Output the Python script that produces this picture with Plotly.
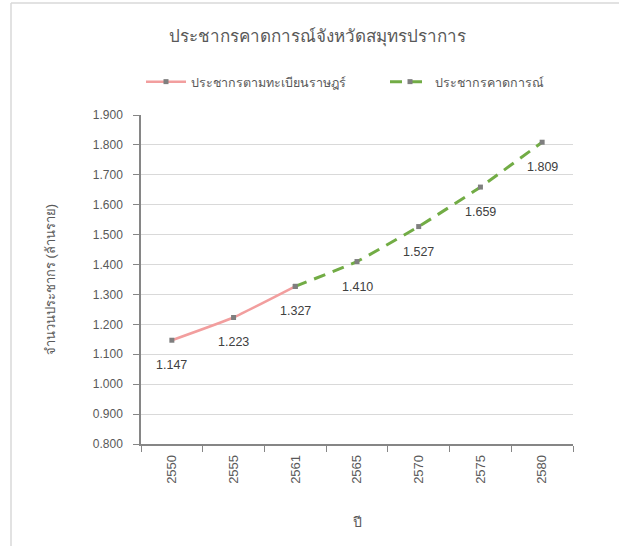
import plotly.graph_objects as go

# Population of Samut Prakan province (millions)
years = ["2550", "2555", "2561", "2565", "2570", "2575", "2580"]
registered_years = ["2550", "2555", "2561"]
registered_values = [1.147, 1.223, 1.327]
projected_years = ["2561", "2565", "2570", "2575", "2580"]
projected_values = [1.327, 1.410, 1.527, 1.659, 1.809]

label_values = [1.147, 1.223, 1.327, 1.410, 1.527, 1.659, 1.809]

FONT = "Liberation Sans, DejaVu Sans, sans-serif"
TEXT = "#595959"
MARKER = "#7f7f7f"

W, H = 619, 546
L, R, T, B = 141, 46, 115, 102
PW, PH = W - L - R, H - T - B

fig = go.Figure()

fig.add_trace(go.Scatter(
    x=registered_years, y=registered_values,
    mode="lines+markers",
    name="ประชากรตามทะเบียนราษฎร์",
    line=dict(color="#f29e9e", width=2.5, shape="spline", smoothing=0.35),
    marker=dict(symbol="square", size=5, color=MARKER),
    legend="legend",
))

fig.add_trace(go.Scatter(
    x=projected_years, y=projected_values,
    mode="lines+markers",
    name="ประชากรคาดการณ์",
    line=dict(color="#72ac45", width=3, dash="12px,8px", shape="spline", smoothing=0.35),
    marker=dict(symbol="square", size=5, color=MARKER),
    legend="legend2",
))

# value labels under each point (x given as category index)
for i, v in enumerate(label_values):
    fig.add_annotation(
        x=i, y=v, xref="x", yref="y", text=f"{v:.3f}", showarrow=False,
        yshift=-25, font=dict(family=FONT, size=12.5, color="#404040"),
    )

# outer chart frame (left and top edges)
fx = (11 - L) / PW
fy = 1 + (T - 3) / PH
fig.add_shape(type="line", xref="paper", yref="paper",
              x0=fx, x1=fx, y0=-0.5, y1=fy,
              line=dict(color="#d9d9d9", width=1.5))
fig.add_shape(type="line", xref="paper", yref="paper",
              x0=fx, x1=1.2, y0=fy, y1=fy,
              line=dict(color="#d9d9d9", width=1.5))

legend_common = dict(
    orientation="h", xref="paper", xanchor="left",
    y=1 + (T - 82) / PH, yref="paper", yanchor="middle",
    font=dict(size=12.5, color=TEXT, family=FONT),
    itemwidth=40, bgcolor="rgba(0,0,0,0)",
)

fig.update_layout(
    width=W, height=H,
    margin=dict(l=L, r=R, t=T, b=B, autoexpand=False),
    paper_bgcolor="white", plot_bgcolor="white",
    font=dict(family=FONT, color=TEXT, size=12),
    title=dict(
        text="ประชากรคาดการณ์จังหวัดสมุทรปราการ",
        x=317 / W, xref="container", xanchor="center",
        y=1 - 36 / H, yref="container", yanchor="middle",
        font=dict(size=17, color=TEXT, family=FONT),
    ),
    showlegend=True,
    legend=dict(x=(141 - L) / PW, **legend_common),
    legend2=dict(x=(385 - L) / PW, **legend_common),
    xaxis=dict(
        type="category", categoryorder="array", categoryarray=years,
        range=[-0.5, 6.5], automargin=False,
        tickson="boundaries", ticks="outside", ticklen=6,
        tickcolor="#868686", tickwidth=1,
        showline=True, linecolor="#868686", linewidth=1.5,
        showgrid=False, tickangle=-90, ticklabelstandoff=4,
        tickfont=dict(size=13, color=TEXT),
        title=dict(text="ปี", font=dict(size=14, color=TEXT), standoff=34),
    ),
    yaxis=dict(
        range=[0.8, 1.9], dtick=0.1, tick0=0.8, tickformat=".3f",
        automargin=False,
        ticks="outside", ticklen=6, tickcolor="#868686",
        ticklabelstandoff=8,
        showline=True, linecolor="#868686", linewidth=1.5,
        showgrid=True, gridcolor="#d9d9d9", gridwidth=1,
        zeroline=False,
        tickfont=dict(size=12, color=TEXT),
        title=dict(text="จำนวนประชากร (ล้านราย)", font=dict(size=13, color=TEXT), standoff=34),
    ),
)

fig.write_html("out.html")
